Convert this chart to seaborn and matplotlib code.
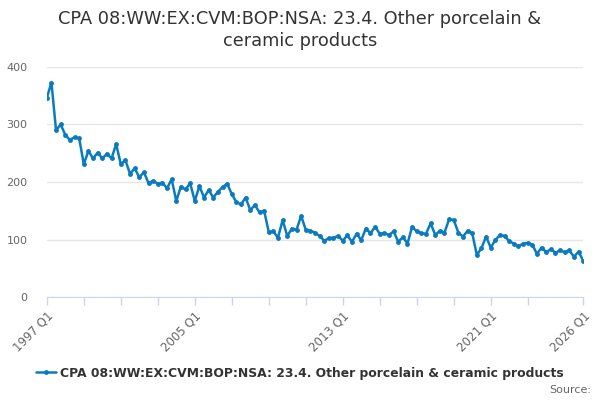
import numpy as np
import pandas as pd
import matplotlib
matplotlib.use("Agg")
import matplotlib.pyplot as plt
import seaborn as sns

series_name = "CPA 08:WW:EX:CVM:BOP:NSA: 23.4. Other porcelain & ceramic products"
title = "CPA 08:WW:EX:CVM:BOP:NSA: 23.4. Other porcelain &\nceramic products"

# quarterly, 1997 Q1 .. 2026 Q1
values = [
    346, 373, 290, 300, 282, 273, 278, 276,   # 1997-1998
    231, 254, 241, 251, 241, 249, 241, 266,   # 1999-2000
    231, 238, 214, 224, 208, 217, 198, 202,   # 2001-2002
    197, 199, 189, 205, 167, 192, 187, 198,   # 2003-2004
    167, 193, 173, 186, 173, 183, 191, 197,   # 2005-2006
    179, 165, 161, 173, 151, 160, 147, 150,   # 2007-2008
    113, 114, 103, 134, 106, 119, 117, 141,   # 2009-2010
    117, 115, 112, 106, 98, 102, 103, 106,    # 2011-2012
    98, 107, 96, 110, 99, 119, 111, 122,      # 2013-2014
    110, 111, 108, 114, 96, 104, 93, 122,     # 2015-2016
    114, 111, 110, 128, 108, 115, 112, 135,   # 2017-2018
    134, 112, 105, 115, 111, 73, 85, 105,     # 2019-2020
    86, 99, 108, 106, 97, 93, 88, 93,         # 2021-2022
    94, 91, 75, 86, 78, 83, 77, 81,           # 2023-2024
    78, 81, 70, 79,                           # 2025
    63,                                       # 2026 Q1
]
quarters = [f"{1997 + i // 4} Q{i % 4 + 1}" for i in range(len(values))]
label_quarters = ["1997 Q1", "2005 Q1", "2013 Q1", "2021 Q1", "2026 Q1"]

df = pd.DataFrame({"idx": np.arange(len(values)), "value": values, "quarter": quarters})

sns.set_style("white")
plt.rcParams["font.family"] = ["DejaVu Sans"]

line_col = "#0b7bc0"
fig = plt.figure(figsize=(6, 4), dpi=100)
ax = fig.add_axes([0.078, 0.2575, 0.894, 0.575])

sns.lineplot(data=df, x="idx", y="value", ax=ax, color=line_col, linewidth=1.8,
             marker="o", markersize=3.5, markeredgewidth=0, label=series_name)

ax.set_xlim(0, len(values) - 1)
ax.set_ylim(0, 400)
ax.set_yticks([0, 100, 200, 300, 400])
ax.yaxis.grid(True, color="#e6e6e6", linewidth=1)
ax.set_axisbelow(True)
ax.tick_params(axis="y", length=0, labelsize=8, labelcolor="#666666", pad=14)

tick_pos = list(range(0, 105, 8)) + [len(values) - 1]
ax.set_xticks(tick_pos)
ax.set_xticklabels([quarters[p] if quarters[p] in label_quarters else "" for p in tick_pos],
                   rotation=45, ha="right", rotation_mode="anchor")
ax.tick_params(axis="x", length=6, color="#ccd6eb", width=1, labelsize=8.5,
               labelcolor="#666666", pad=3, direction="out", bottom=True)
for s in ["top", "right", "left"]:
    ax.spines[s].set_visible(False)
ax.spines["bottom"].set_color("#ccd6eb")
ax.set_xlabel("")
ax.set_ylabel("")

fig.suptitle(title, y=0.975, fontsize=12.8, color="#333333", va="top", linespacing=1.25)

ax.legend_.remove()
leg = fig.legend(*ax.get_legend_handles_labels(), loc="center", bbox_to_anchor=(0.5, 0.0675),
                 frameon=False, handlelength=1.6, handletextpad=0.4,
                 prop={"weight": "bold", "size": 8.9})
for t in leg.get_texts():
    t.set_color("#333333")

fig.text(0.985, 0.025, "Source:", ha="right", va="center", fontsize=8, color="#666666")

fig.savefig("out.png", dpi=100)
